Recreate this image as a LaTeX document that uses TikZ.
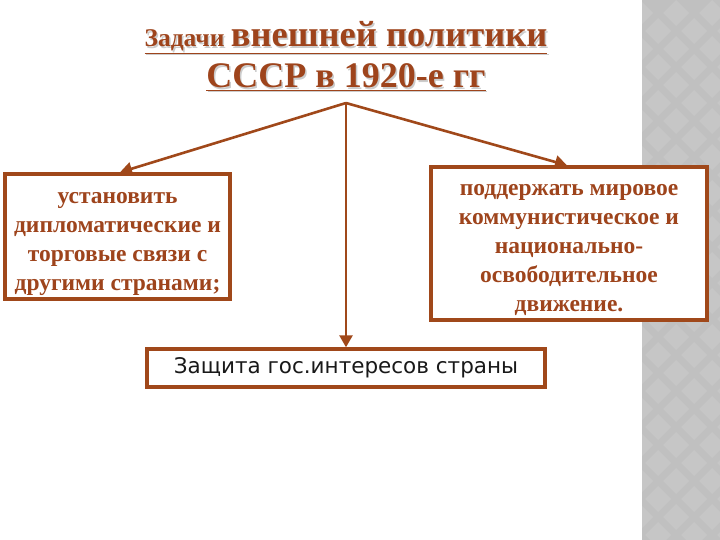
\documentclass[tikz,border=0pt]{standalone}
\usepackage{fontspec}
\setmainfont{Liberation Serif}
\newfontfamily\boxsans{DejaVu Sans}
\usetikzlibrary{arrows.meta}
\definecolor{brn}{RGB}{160,72,26}
\definecolor{txtbrn}{RGB}{158,68,28}
\definecolor{stripgray}{RGB}{192,192,192}
\definecolor{stripdiam}{RGB}{198,198,198}
\tikzset{
  boxst/.style={draw=brn, line width=3.4pt, fill=white, inner sep=0pt},
  conn/.style={draw=brn, line width=2.6pt, -{Triangle[length=12pt,width=13pt]}},
  bodytxt/.style={text=txtbrn, inner sep=0pt, align=center, font=\fontsize{23.5}{29}\selectfont\bfseries},
}
\begin{document}
\begin{tikzpicture}[x=1pt,y=-1pt]
\useasboundingbox (0,0) rectangle (720,540);
\fill[white] (0,0) rectangle (720,540);
% gray strip with diamond pattern
\begin{scope}
\clip (642,0) rectangle (720,540);
\fill[stripgray] (642,0) rectangle (720,540);
\foreach \i in {0,...,3}{
  \foreach \j in {0,...,16}{
    \fill[stripdiam] ({640+\i*36},{\j*36}) -- ++(13,13) -- ++(-13,13) -- ++(-13,-13) -- cycle;
    \fill[stripdiam] ({658+\i*36},{18+\j*36}) -- ++(13,13) -- ++(-13,13) -- ++(-13,-13) -- cycle;
  }
}
\end{scope}
% title (with light shadow)
\node[anchor=base, text=black!20, inner sep=0pt] at (347.5,48.5)
  {\bfseries\underline{{\fontsize{25.5}{26}\selectfont Задачи }{\fontsize{36.5}{38}\selectfont внешней политики}}};
\node[anchor=base, text=txtbrn, inner sep=0pt] (t1) at (346,47)
  {\bfseries\underline{{\fontsize{25.5}{26}\selectfont Задачи }{\fontsize{36.5}{38}\selectfont внешней политики}}};
\node[anchor=base, text=black!20, inner sep=0pt] at (347.5,89.5)
  {\bfseries\underline{\fontsize{36}{38}\selectfont СССР в 1920-е гг}};
\node[anchor=base, text=txtbrn, inner sep=0pt] (t2) at (346,88)
  {\bfseries\underline{\fontsize{36}{38}\selectfont СССР в 1920-е гг}};
\coordinate (hub) at (346,103);
% boxes
\node[boxst, minimum width=225pt, minimum height=125pt] (L) at (117.5,236.5) {};
\node[bodytxt] (Lt) at ([yshift=-7pt]L.center)
  {установить\\дипломатические и\\торговые связи с\\другими странами;};
\node[boxst, minimum width=276pt, minimum height=153pt] (R) at (569,243.5) {};
\node[bodytxt] (Rt) at ([yshift=-7pt]R.center)
  {поддержать мировое\\коммунистическое и\\национально-\\освободительное\\движение.};
\node[boxst, minimum width=398pt, minimum height=38pt, font=\boxsans\fontsize{21.5}{23}\selectfont, text=black!90] (B) at (346,368)
  {Защита гос.интересов страны};
% connectors
\draw[conn] (hub) -- (L.north -| 120,0);
\draw[conn] (hub) -- (R.north -| 567,0);
\draw[conn] (hub) -- (B.north);
\end{tikzpicture}
\end{document}
